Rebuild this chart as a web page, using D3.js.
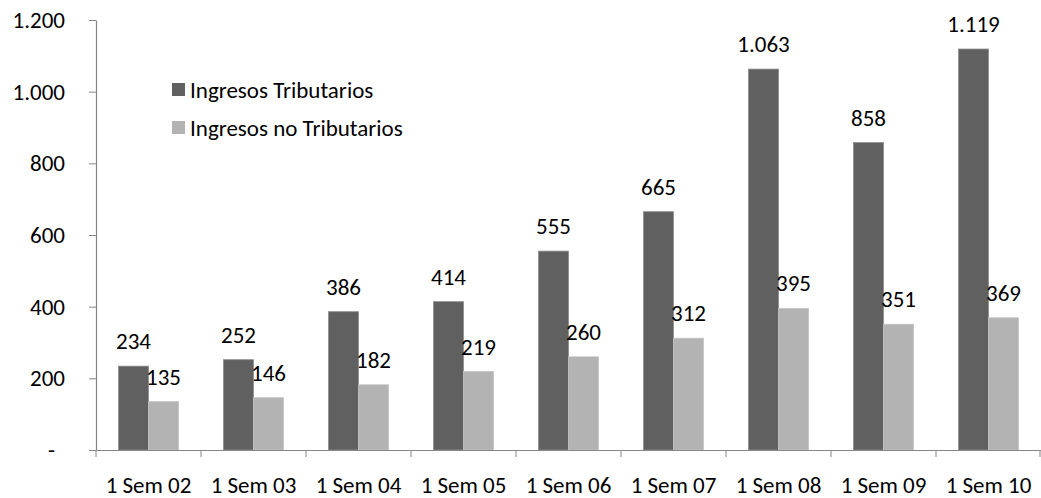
<!DOCTYPE html>
<html>
<head>
<meta charset="utf-8">
<script src="https://cdn.jsdelivr.net/npm/d3@7"></script>
<style>
    body { margin: 0; background: #fff; }
    svg { display: block; font-family: Carlito, Calibri, Lato, "Open Sans", sans-serif; }
</style>
</head>
<body>
<svg id="chart" width="1041" height="498"></svg>
<script>
const categories = ["1 Sem 02", "1 Sem 03", "1 Sem 04", "1 Sem 05", "1 Sem 06", "1 Sem 07", "1 Sem 08", "1 Sem 09", "1 Sem 10"];
const seriesNames = ["Ingresos Tributarios", "Ingresos no Tributarios"];
const tributarios = [234, 252, 386, 414, 555, 665, 1063, 858, 1119];
const noTributarios = [135, 146, 182, 219, 260, 312, 395, 351, 369];
const yTicks = [0, 200, 400, 600, 800, 1000, 1200];

const colors = ["#606060", "#b3b3b3"];
const fontSize = 23;
const fontFamily = "Carlito, Calibri, Lato, 'Open Sans', sans-serif";

const rows = categories.map((c, i) => ({
    cat: c,
    values: [
        { key: seriesNames[0], value: tributarios[i] },
        { key: seriesNames[1], value: noTributarios[i] }
    ]
}));

const svg = d3.select("#chart");
const margin = { top: 20, right: 0, bottom: 48, left: 96 };
const width = +svg.attr("width");
const height = +svg.attr("height");

const locale = d3.formatLocale({ decimal: ",", thousands: ".", grouping: [3], currency: ["", ""] });
const fmt = locale.format(",d");

const xScale = d3.scaleBand()
    .domain(categories)
    .range([margin.left, width - margin.right])
    .padding(0);
const xSub = d3.scaleBand()
    .domain(seriesNames)
    .range([0, xScale.bandwidth()])
    .paddingInner(0)
    .paddingOuter(0.75);
const yScale = d3.scaleLinear()
    .domain([0, 1200])
    .range([height - margin.bottom, margin.top]);

// y axis
const yAxisG = svg.append("g")
    .attr("class", "axis y-axis")
    .attr("transform", `translate(${margin.left},0)`)
    .call(d3.axisLeft(yScale)
        .tickValues(yTicks)
        .tickSize(7)
        .tickSizeOuter(0)
        .tickPadding(24)
        .tickFormat(d => d === 0 ? "-" : fmt(d)));
yAxisG.attr("font-family", fontFamily).attr("font-size", fontSize);
yAxisG.selectAll("text")
    .attr("fill", "#000")
    .attr("dx", d => d === 0 ? -10 : 0);
yAxisG.selectAll("line, path").attr("stroke", "#868686");
yAxisG.select(".domain").attr("stroke-width", 1.2);

// bars
const groups = svg.append("g")
    .selectAll(".group")
    .data(rows)
    .join("g")
    .attr("class", "group")
    .attr("transform", d => `translate(${xScale(d.cat)},0)`);

groups.selectAll("rect")
    .data(d => d.values)
    .join("rect")
    .attr("x", d => xSub(d.key))
    .attr("y", d => yScale(d.value))
    .attr("width", xSub.bandwidth())
    .attr("height", d => yScale(0) - yScale(d.value))
    .attr("fill", (d, i) => colors[i])
    .attr("stroke", (d, i) => i === 0 ? "#8e8e8e" : "#c4c4c4")
    .attr("stroke-width", 0.8);

groups.selectAll(".value-label")
    .data(d => d.values)
    .join("text")
    .attr("class", "value-label")
    .attr("x", d => xSub(d.key) + xSub.bandwidth() / 2)
    .attr("y", d => yScale(d.value) - 17)
    .attr("text-anchor", "middle")
    .attr("font-size", fontSize)
    .attr("fill", "#000")
    .text(d => fmt(d.value));

// x axis
const xAxisG = svg.append("g")
    .attr("class", "axis x-axis")
    .attr("transform", `translate(0,${yScale(0)})`)
    .call(d3.axisBottom(xScale)
        .tickSize(0)
        .tickPadding(27));
xAxisG.attr("font-family", fontFamily).attr("font-size", fontSize);
xAxisG.selectAll("text")
    .attr("fill", "#000");
xAxisG.select(".domain").attr("stroke", "#868686").attr("stroke-width", 1.2);

const boundaries = categories.map(c => xScale(c)).concat([xScale.range()[1] - 1]);
xAxisG.selectAll(".cat-tick")
    .data(boundaries)
    .join("line")
    .attr("class", "cat-tick")
    .attr("x1", d => d)
    .attr("x2", d => d)
    .attr("y1", 0)
    .attr("y2", 7)
    .attr("stroke", "#868686");

// legend
const legend = svg.append("g")
    .attr("transform", "translate(172,83)");
const legendItems = legend.selectAll(".legend-item")
    .data(seriesNames)
    .join("g")
    .attr("class", "legend-item")
    .attr("transform", (d, i) => `translate(0,${i * 38})`);
legendItems.append("rect")
    .attr("width", 13)
    .attr("height", 13)
    .attr("fill", (d, i) => colors[i]);
legendItems.append("text")
    .attr("x", 18)
    .attr("y", 6.5)
    .attr("dy", "0.35em")
    .attr("font-size", fontSize)
    .attr("fill", "#000")
    .text(d => d);
</script>
</body>
</html>
